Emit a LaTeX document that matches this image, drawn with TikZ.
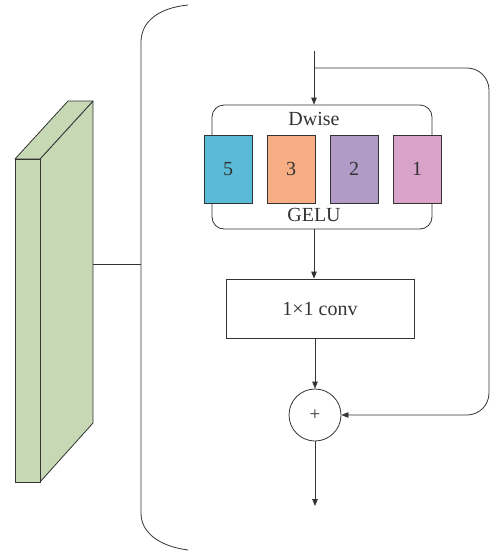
\documentclass[tikz,border=0pt]{standalone}
\usepackage{fontspec}
\setmainfont{Liberation Serif}
\usetikzlibrary{arrows.meta}
\definecolor{linec}{HTML}{333333}
\definecolor{slabgreen}{HTML}{C6D8B4}
\definecolor{kfive}{HTML}{5ABBD9}
\definecolor{kthree}{HTML}{F8AE84}
\definecolor{ktwo}{HTML}{B09BC7}
\definecolor{kone}{HTML}{D9A3C9}
\begin{document}
\begin{tikzpicture}[x=1pt,y=-1pt,
  conn/.style={draw=linec, line width=0.8pt},
  arr/.style={conn, -{Triangle[length=7pt,width=5.5pt]}},
  lbl/.style={font=\fontsize{20}{20}\selectfont, text=linec},
  kbox/.style={draw=linec, line width=0.8pt, minimum width=48pt, minimum height=68pt,
               inner sep=0pt, font=\fontsize{20}{20}\selectfont, text=linec},
  group/.style={draw=linec, line width=0.8pt, rounded corners=12pt,
                minimum width=220pt, minimum height=124pt, inner sep=0pt},
  convbox/.style={draw=linec, line width=0.8pt, minimum width=188pt, minimum height=59pt,
                  inner sep=0pt, font=\fontsize{20}{20}\selectfont, text=linec},
  addnode/.style={draw=linec, line width=0.8pt, circle, minimum size=52pt, inner sep=0pt,
                  font=\fontsize{19}{19}\selectfont, text=linec}]
\useasboundingbox (0,0) rectangle (490,552);

% feature map slab
\filldraw[conn, fill=slabgreen, line join=round] (40,159) -- (93,101) -- (93,423) -- (40,482) -- cycle;
\filldraw[conn, fill=slabgreen, line join=round] (15,159) -- (68,101) -- (93,101) -- (40,159) -- cycle;
\filldraw[conn, fill=slabgreen] (15,159) rectangle (40,482);
\coordinate (slabout) at (93,264);

% bracket enclosing the block
\coordinate (brtop) at (188,5);
\coordinate (brbot) at (188,550);
\coordinate (brmid) at (141,264);
\draw[conn] (brtop) .. controls (158,8) and (141,22) .. (141,42) -- (141,513)
  .. controls (141,532) and (158,546) .. (brbot);
\draw[conn] (slabout) -- (brmid);

% depthwise kernels group
\node[group] (dw) at (322,167) {};
\node[lbl] (dwlabel) at (314,119) {Dwise};
\node[lbl] (gelu) at (314,215) {GELU};
\node[kbox, fill=kfive]  (k5) at (228,169) {5};
\node[kbox, fill=kthree] (k3) at (291,169) {3};
\node[kbox, fill=ktwo]   (k2) at (354,169) {2};
\node[kbox, fill=kone]   (k1) at (417,169) {1};

% pointwise conv and residual add
\node[convbox] (pw) at (320,308.5) {1\texttimes1 conv};
\node[addnode] (add) at (315,415) {+};

\coordinate (in) at (314,51);
\coordinate (split) at (314,68);
\coordinate (out) at (315,506);

\draw[arr] (in) -- (dw.north -| in);
\draw[arr] (dw.south -| in) -- (pw.north -| in);
\draw[arr] (pw.south -| add) -- (add.north);
\draw[arr] (add.south) -- (out);
\draw[arr, rounded corners=22pt] (split) -- (489,68) -- (489,415) -- (add.east);
\end{tikzpicture}
\end{document}
